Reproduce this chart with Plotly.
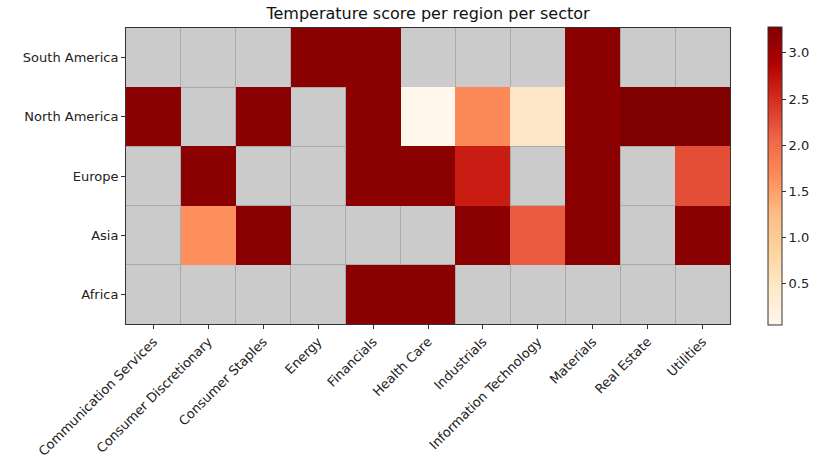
import plotly.graph_objects as go

sectors = ["Communication Services", "Consumer Discretionary", "Consumer Staples", "Energy",
           "Financials", "Health Care", "Industrials", "Information Technology",
           "Materials", "Real Estate", "Utilities"]
regions = ["South America", "North America", "Europe", "Asia", "Africa"]
nan = None
south_america = [nan, nan, nan, 3.19, 3.19, nan, nan, nan, 3.19, nan, nan]
north_america = [3.19, nan, 3.19, nan, 3.19, 0.055, 1.7, 0.47, 3.19, 3.28, 3.28]
europe = [nan, 3.19, nan, nan, 3.19, 3.19, 2.63, nan, 3.19, nan, 2.25]
asia = [nan, 1.65, 3.19, nan, nan, nan, 3.19, 2.15, 3.19, nan, 3.19]
africa = [nan, nan, nan, nan, 3.19, 3.19, nan, nan, nan, nan, nan]
z = [south_america, north_america, europe, asia, africa]

orrd = [[0.0, "#fff7ec"], [0.125, "#fee8c8"], [0.25, "#fdd49e"], [0.375, "#fdbb84"],
        [0.5, "#fc8d59"], [0.625, "#ef6548"], [0.75, "#d7301f"], [0.875, "#b30000"],
        [1.0, "#7f0000"]]

xi = list(range(len(sectors)))
yi = list(range(len(regions)))

fig = go.Figure(go.Heatmap(
    z=z, x=xi, y=yi, colorscale=orrd, zmin=0.055, zmax=3.28,
    colorbar=dict(thickness=14, len=298 / 296, lenmode="fraction", x=1.063, xanchor="left",
                  xpad=0, ypad=0,
                  y=0.5, yanchor="middle", outlinecolor="#333", outlinewidth=1,
                  tickvals=[0.5, 1.0, 1.5, 2.0, 2.5, 3.0],
                  ticktext=["0.5", "1.0", "1.5", "2.0", "2.5", "3.0"],
                  ticks="outside", ticklen=4, tickcolor="#333",
                  tickfont=dict(size=13, color="#222", family="DejaVu Sans")),
    hoverongaps=False,
))

fig.update_layout(
    width=819, height=458,
    margin=dict(l=126, r=89, t=28, b=134, autoexpand=False),
    paper_bgcolor="white", plot_bgcolor="#cbcbcb",
    title=dict(text="Temperature score per region per sector", x=(126 + 730) / 2 / 819,
               xanchor="center", y=1 - 13 / 458, yanchor="middle", automargin=False,
               font=dict(size=16, family="DejaVu Sans", color="#111")),
    font=dict(family="DejaVu Sans", size=13, color="#222"),
)
fig.update_xaxes(
    tickvals=xi, ticktext=sectors, tickangle=-45, range=[-0.5, len(sectors) - 0.5],
    automargin=False,
    showgrid=False, zeroline=False, showline=True, linecolor="#333", linewidth=1, mirror=True,
    ticks="outside", ticklen=4, tickcolor="#333",
    minor=dict(tick0=0.5, dtick=1, showgrid=True, gridcolor="#aaaaaa", gridwidth=1, ticks=""),
    tickfont=dict(size=13),
)
fig.update_yaxes(
    tickvals=yi, ticktext=regions, range=[len(regions) - 0.5, -0.5],
    automargin=False,
    showgrid=False, zeroline=False, showline=True, linecolor="#333", linewidth=1, mirror=True,
    ticks="outside", ticklen=4, tickcolor="#333",
    minor=dict(tick0=0.5, dtick=1, showgrid=True, gridcolor="#aaaaaa", gridwidth=1, ticks=""),
    tickfont=dict(size=13),
)

fig.write_html(
    "out.html",
    config={"displayModeBar": False},
    post_script="document.body.style.margin='0px';document.body.style.padding='0px';",
)
